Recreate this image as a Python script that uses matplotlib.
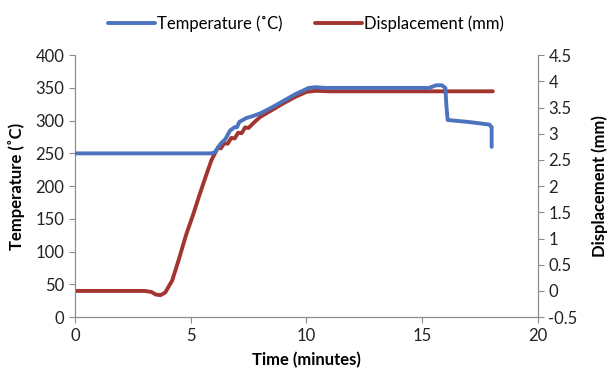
import matplotlib.pyplot as plt

plt.rcParams['font.family'] = ['Lato', 'DejaVu Sans']

# Temperature (left axis)
temp_time = [0, 5.9, 6.05, 6.3, 6.5, 6.7, 6.9, 7.0, 7.1, 7.2, 7.4, 7.6, 8.0, 8.5,
             9.0, 9.5, 9.8, 10.1, 10.4, 10.8, 12.0, 15.3, 15.6, 15.85, 16.0, 16.05,
             16.1, 17.0, 17.9, 18.0, 18.0]
temp_vals = [250, 250, 252, 265, 272, 285, 290, 290, 298, 300, 304, 306, 311, 320,
             330, 340, 345, 350, 351, 350, 350, 350, 354, 354, 350, 320,
             301, 298, 294, 290, 260]

# Displacement (right axis)
disp_time = [0, 3.0, 3.3, 3.5, 3.7, 3.9, 4.2, 4.5, 4.8, 5.1, 5.4, 5.7, 5.9, 6.05,
             6.2, 6.3, 6.45, 6.6, 6.75, 6.9, 7.05, 7.2, 7.35, 7.5, 7.7, 8.0, 8.5,
             9.0, 9.5, 10.0, 10.4, 11.0, 18.05]
disp_vals = [0, 0, -0.02, -0.07, -0.08, -0.03, 0.2, 0.62, 1.07, 1.45, 1.86, 2.25, 2.5, 2.63,
             2.75, 2.72, 2.82, 2.81, 2.92, 2.91, 3.02, 3.01, 3.12, 3.11, 3.2, 3.32, 3.45,
             3.58, 3.70, 3.80, 3.82, 3.81, 3.81]

blue = '#4C73BE'
red = '#A23530'
grey = '#8C8C8C'

fig = plt.figure(figsize=(6.12, 3.83), dpi=100)
ax = fig.add_axes([0.1225, 0.172, 0.7565, 0.684])
ax2 = ax.twinx()

l1, = ax.plot(temp_time, temp_vals, color=blue, lw=2.8, label='Temperature (˚C)',
              solid_joinstyle='round', solid_capstyle='round', zorder=3)
l2, = ax2.plot(disp_time, disp_vals, color=red, lw=2.8, label='Displacement (mm)',
               solid_joinstyle='round', solid_capstyle='round')
ax.set_zorder(ax2.get_zorder() + 1)
ax.patch.set_visible(False)

ax.set_xlim(0, 20)
ax.set_ylim(0, 400)
ax.set_xticks(range(0, 21, 5))
ax.set_yticks(range(0, 401, 50))
ax2.set_ylim(-0.5, 4.5)
ax2.set_yticks([-0.5, 0, 0.5, 1, 1.5, 2, 2.5, 3, 3.5, 4, 4.5])
ax2.set_yticklabels(['-0.5', '0', '0.5', '1', '1.5', '2', '2.5', '3', '3.5', '4', '4.5'])

for a in (ax, ax2):
    for s in a.spines.values():
        s.set_color(grey)
    a.spines['top'].set_visible(False)
    a.tick_params(colors=grey, labelcolor='#222222', labelsize=12, length=4, width=0.8)

ax.set_xlabel('Time (minutes)', fontsize=12, fontweight='bold', labelpad=6)
ax.set_ylabel('Temperature (˚C)', fontsize=12, fontweight='bold', labelpad=8)
ax2.set_ylabel('Displacement (mm)', fontsize=12, fontweight='bold', rotation=90, labelpad=10)

fig.legend(handles=[l1, l2], loc='upper center', bbox_to_anchor=(0.5, 1.0), ncol=2,
           frameon=False, fontsize=12, handlelength=2.8, columnspacing=2.0, handletextpad=0.1)

fig.savefig('out.png', dpi=100)
